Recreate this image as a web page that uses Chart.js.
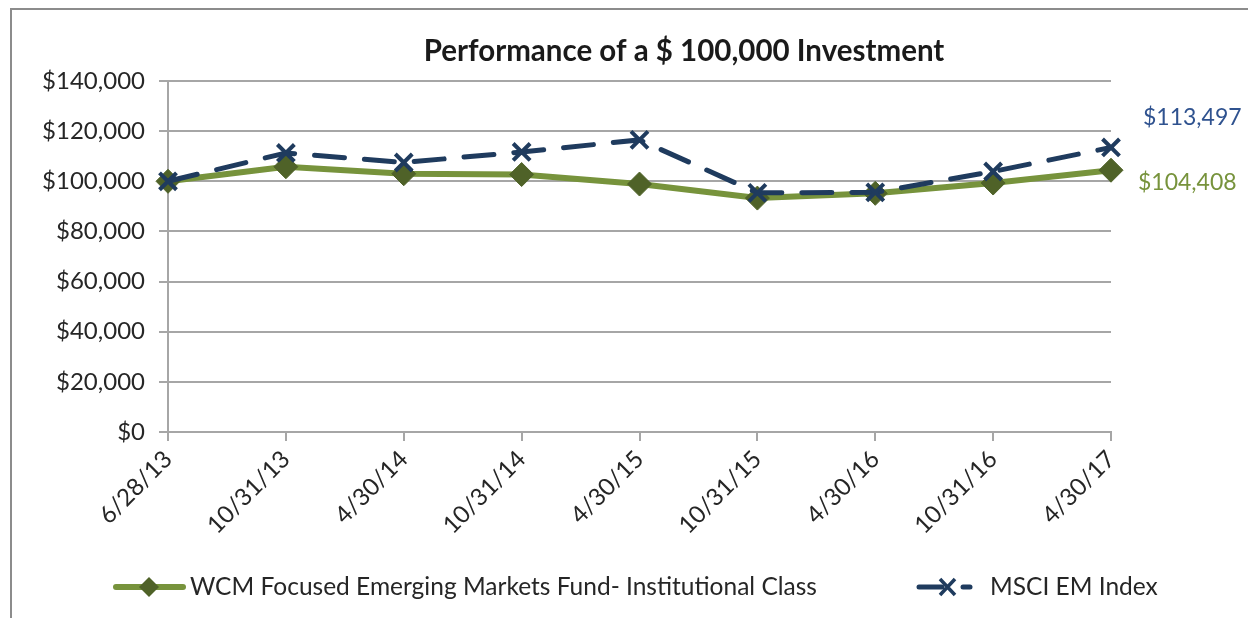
<!DOCTYPE html>
<html>
<head>
<meta charset="utf-8">
<script src="https://cdn.jsdelivr.net/npm/chart.js@4.4.1/dist/chart.umd.min.js"></script>
<style>
  body { margin: 0; background: #fff; overflow: hidden; }
  #wrap { position: relative; width: 1248px; height: 618px; }
  #frame { position: absolute; left: 10px; top: 8px; width: 1300px; height: 700px; border: 2px solid #8c8c8c; }
  #chart { position: absolute; left: 0; top: 0; }
</style>
</head>
<body>
<div id="wrap">
  <div id="frame"></div>
  <canvas id="chart" width="1248" height="618"></canvas>
</div>
<script>
var dates = ["6/28/13", "10/31/13", "4/30/14", "10/31/14", "4/30/15", "10/31/15", "4/30/16", "10/31/16", "4/30/17"];
var fundValues = [100000, 105800, 103000, 102700, 98900, 93300, 95200, 99300, 104408];
var indexValues = [100000, 111300, 107500, 111700, 116500, 95400, 95600, 103900, 113497];
var fundName = "WCM Focused Emerging Markets Fund- Institutional Class";
var indexName = "MSCI EM Index";
var titleText = "Performance of a $ 100,000 Investment";

var green = "#77933c";
var darkGreen = "#4f6228";
var navy = "#1f3b5e";
var gridGray = "#a6a6a6";
var textColor = "#262626";

function money(v) {
  return "$" + Math.round(v).toLocaleString("en-US");
}

// title, end labels and legend drawn by hand
var decorations = {
  id: "decorations",
  afterDraw: function(chart) {
    var ctx = chart.ctx;
    var xs = chart.scales.x, ys = chart.scales.y;
    var last = dates.length - 1;
    var lx = xs.getPixelForValue(last);
    ctx.save();

    ctx.font = "bold 29.5px Lato";
    ctx.fillStyle = "#1a1a1a";
    ctx.textAlign = "center";
    ctx.textBaseline = "middle";
    ctx.fillText(titleText, 684, 51);

    ctx.font = "23px Lato";
    ctx.textAlign = "left";
    ctx.fillStyle = "#2f528f";
    ctx.fillText(money(indexValues[last]), lx + 32, ys.getPixelForValue(indexValues[last]) - 30);
    ctx.fillStyle = green;
    ctx.fillText(money(fundValues[last]), lx + 27, ys.getPixelForValue(fundValues[last]) + 12);

    // legend
    var ly = 587;
    ctx.lineCap = "round";
    ctx.strokeStyle = green;
    ctx.lineWidth = 6;
    ctx.beginPath(); ctx.moveTo(116, ly); ctx.lineTo(183, ly); ctx.stroke();
    ctx.fillStyle = darkGreen;
    ctx.beginPath();
    ctx.moveTo(149 - 10, ly); ctx.lineTo(149, ly - 10); ctx.lineTo(149 + 10, ly); ctx.lineTo(149, ly + 10);
    ctx.closePath(); ctx.fill();

    ctx.strokeStyle = navy;
    ctx.lineWidth = 5;
    ctx.beginPath(); ctx.moveTo(919, ly); ctx.lineTo(942, ly); ctx.stroke();
    ctx.beginPath(); ctx.moveTo(963, ly); ctx.lineTo(970, ly); ctx.stroke();
    ctx.lineWidth = 3.5;
    ctx.lineCap = "butt";
    ctx.beginPath();
    ctx.moveTo(940, ly - 8); ctx.lineTo(955, ly + 8);
    ctx.moveTo(955, ly - 8); ctx.lineTo(940, ly + 8);
    ctx.stroke();

    ctx.fillStyle = textColor;
    ctx.font = "24.5px Lato";
    ctx.fillText(fundName, 190, ly);
    ctx.fillText(indexName, 990, ly);
    ctx.restore();
  }
};

var ctx = document.getElementById("chart").getContext("2d");
var chart = new Chart(ctx, {
  type: "line",
  data: {
    labels: dates,
    datasets: [
      {
        label: indexName,
        data: indexValues,
        borderColor: navy,
        borderWidth: 5,
        borderDash: [30, 20],
        borderCapStyle: "round",
        pointStyle: "crossRot",
        pointRadius: 12,
        pointBorderWidth: 4,
        pointBorderColor: navy,
        pointBackgroundColor: navy,
        tension: 0,
        order: 0
      },
      {
        label: fundName,
        data: fundValues,
        borderColor: green,
        borderWidth: 6,
        pointStyle: "rectRot",
        pointRadius: 12,
        pointBorderWidth: 1,
        pointBorderColor: darkGreen,
        pointBackgroundColor: darkGreen,
        tension: 0,
        order: 1
      }
    ]
  },
  options: {
    responsive: false,
    devicePixelRatio: 1,
    animation: false,
    layout: { padding: { left: 0, right: 137, top: 81, bottom: 0 } },
    plugins: {
      legend: { display: false },
      title: { display: false },
      tooltip: { enabled: false }
    },
    scales: {
      x: {
        offset: false,
        afterFit: function(s) { s.height = 186; },
        grid: { drawOnChartArea: false, drawTicks: true, tickLength: 9, color: gridGray, lineWidth: 2 },
        border: { display: true, color: gridGray, width: 2 },
        ticks: {
          color: textColor,
          font: { family: "Lato", size: 24 },
          minRotation: 45,
          maxRotation: 45,
          autoSkip: false,
          padding: 4
        }
      },
      y: {
        min: 0,
        max: 140000,
        afterFit: function(s) { s.width = 168; },
        grid: { color: gridGray, lineWidth: 2, tickLength: 9 },
        border: { display: true, color: gridGray, width: 2 },
        ticks: {
          stepSize: 20000,
          color: textColor,
          font: { family: "Lato", size: 24 },
          padding: 14,
          callback: function(v) { return money(v); }
        }
      }
    }
  },
  plugins: [decorations]
});
</script>
</body>
</html>
